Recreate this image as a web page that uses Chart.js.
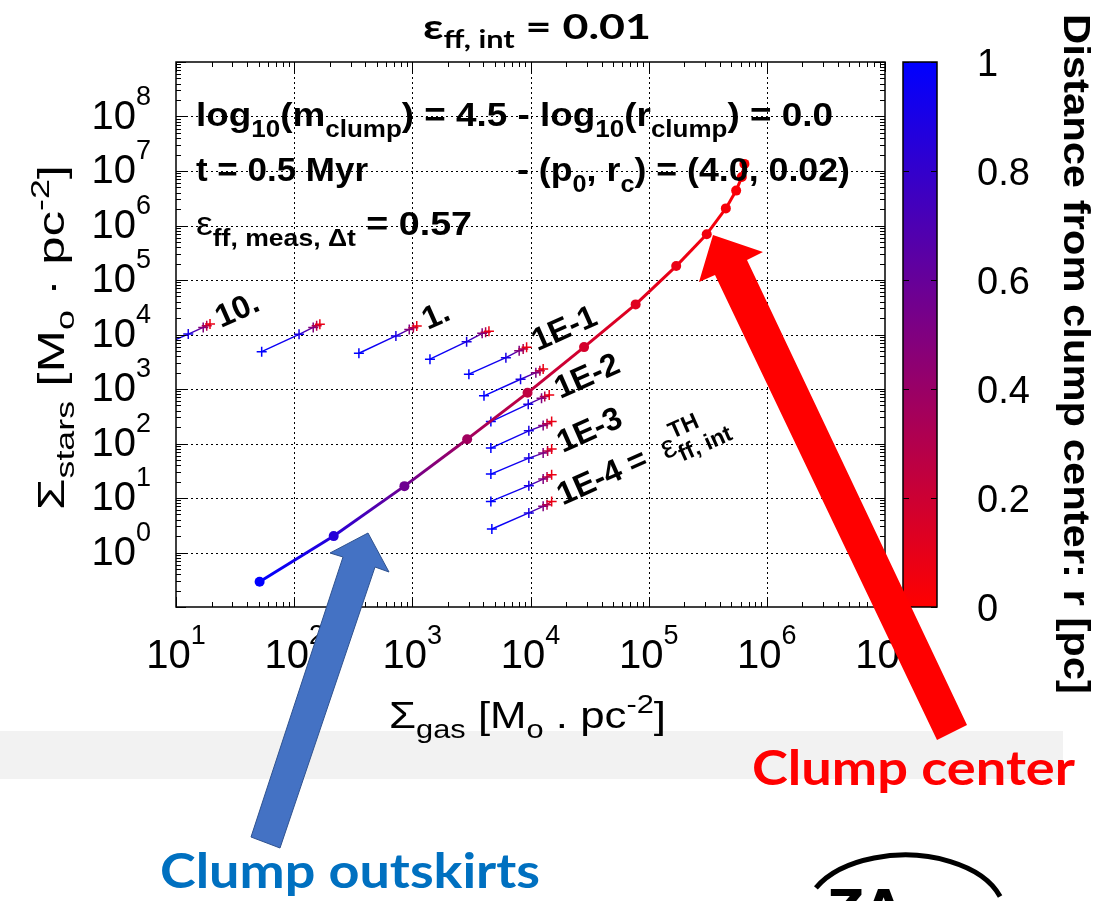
<!DOCTYPE html>
<html>
<head>
<meta charset="utf-8">
<script src="https://cdn.jsdelivr.net/npm/chart.js@4.4.0/dist/chart.umd.min.js"></script>
<style>
  html, body { margin: 0; padding: 0; background: #fff; }
  #wrap { width: 1110px; height: 901px; position: relative; }
</style>
</head>
<body>
<div id="wrap"><canvas id="chart" width="1110" height="901"></canvas></div>
<script>
// main clump profile: Sigma_gas, Sigma_stars and radius r [pc] of each point
const mainGas = [51, 216, 857, 2910, 9440, 28400, 77600, 171000, 310000, 450000, 550000, 614000, 646000];
const mainStars = [0.29, 2.0, 16.5, 120, 851, 5870, 35700, 180000, 692000, 2.06e6, 4.37e6, 7.76e6, 1.35e7];
const mainR = [1.0, 0.85, 0.57, 0.37, 0.25, 0.17, 0.12, 0.08, 0.05, 0.035, 0.025, 0.02, 0.01];

// small tracks for each threshold efficiency (half-decade steps)
const trackLabels = ['10.', '', '1.', '', '1E-1', '', '1E-2', '', '1E-3', '', '1E-4 = '];
const trackGas = [
  [6.14, 12.7, 17.0, 18.2, 19.4],
  [53.1, 110, 145, 155, 165],
  [353, 726, 942, 1020, 1090],
  [1410, 2880, 3900, 4170, 4450],
  [3010, 6190, 8020, 8670, 9270],
  [4040, 8240, 11100, 12000, 12800],
  [4620, 9570, 12400, 13200, 14400],
  [4620, 9680, 12800, 13800, 15100],
  [4620, 9680, 12800, 13960, 15100],
  [4620, 9680, 12800, 13800, 15100],
  [4710, 9680, 12800, 13800, 15100]
];
const trackStars = [
  [4990, 10200, 13500, 14500, 15600],
  [4840, 10100, 13500, 14500, 15400],
  [4530, 9400, 12400, 13300, 14300],
  [3520, 7380, 10500, 11000, 11450],
  [1870, 3760, 5050, 5420, 5830],
  [748, 1510, 1995, 2170, 2330],
  [253, 527, 679, 726, 780],
  [82.4, 171, 214, 230, 253],
  [27.5, 54.0, 66.7, 72.6, 78.9],
  [8.67, 16.8, 22.3, 24.3, 26.7],
  [2.70, 5.31, 7.02, 7.54, 8.67]
];
const trackR = [1.0, 0.9, 0.5, 0.3, 0.08];

// axis ticks
const xTicks = [1e1, 1e2, 1e3, 1e4, 1e5, 1e6, 1e7];
const yTicks = [1e0, 1e1, 1e2, 1e3, 1e4, 1e5, 1e6, 1e7, 1e8];
const cbTicks = [0, 0.2, 0.4, 0.6, 0.8, 1];
const cbLabels = ['0', '0.2', '0.4', '0.6', '0.8', '1'];

const GP = 'Liberation Sans, Arial, Helvetica, sans-serif';
const SLIDE = 'Lato, Open Sans, sans-serif';

function rColor(r) {
  return 'rgb(' + Math.round(255 * (1 - r)) + ',0,' + Math.round(255 * r) + ')';
}

function segGrad(rArr) {
  return ctx => {
    const c = ctx.chart.ctx;
    const g = c.createLinearGradient(ctx.p0.x, ctx.p0.y, ctx.p1.x, ctx.p1.y);
    g.addColorStop(0, rColor(rArr[ctx.p0DataIndex]));
    g.addColorStop(1, rColor(rArr[ctx.p1DataIndex]));
    return g;
  };
}

// rich text: runs of {t, size, dy, bold, mark, again}
function layoutRuns(c, runs, o) {
  let x = 0, mark = 0;
  const items = [];
  runs.forEach(r => {
    if (r.mark) mark = x;
    const start = r.again ? mark : x;
    const bold = r.bold !== undefined ? r.bold : o.bold;
    c.font = (bold ? 'bold ' : '') + (r.size || o.size) + 'px ' + (r.fam || o.fam);
    const w = c.measureText(r.t).width;
    items.push({ t: r.t, x: start, dy: r.dy || 0, font: c.font });
    x = r.again ? Math.max(x, start + w) : start + w;
  });
  return { items, width: x };
}

function drawRich(c, runs, o) {
  c.save();
  const L = layoutRuns(c, runs, o);
  const sx = o.fit ? o.fit / L.width : 1;
  c.translate(o.x, o.y);
  c.rotate(o.angle || 0);
  c.scale(sx, 1);
  let off = 0;
  if (o.align === 'center') off = -L.width / 2;
  if (o.align === 'right') off = -L.width;
  c.fillStyle = o.color || '#000';
  c.textBaseline = o.baseline || 'alphabetic';
  L.items.forEach(it => {
    c.font = it.font;
    c.fillText(it.t, off + it.x, it.dy);
  });
  c.restore();
}

function poly(c, pts, fill, stroke) {
  c.beginPath();
  c.moveTo(pts[0][0], pts[0][1]);
  for (let i = 1; i < pts.length; i++) c.lineTo(pts[i][0], pts[i][1]);
  c.closePath();
  c.fillStyle = fill;
  c.fill();
  if (stroke) { c.strokeStyle = stroke; c.lineWidth = 1; c.stroke(); }
}

const gnuFrame = {
  id: 'gnuFrame',
  beforeDraw(chart) {
    const c = chart.ctx;
    c.save();
    c.fillStyle = '#fff';
    c.fillRect(0, 0, chart.width, chart.height);
    c.fillStyle = '#f2f2f2';
    c.fillRect(0, 731, 1063, 48);
    c.restore();
  },
  beforeDatasetsDraw(chart) {
    const c = chart.ctx;
    const { left, right, top, bottom } = chart.chartArea;
    const xs = chart.scales.x, ys = chart.scales.y;
    c.save();
    c.strokeStyle = '#000';
    c.lineWidth = 1;
    c.setLineDash([2, 3]);
    xTicks.forEach(v => {
      const px = Math.round(xs.getPixelForValue(v)) + 0.5;
      if (px < left + 3 || px > right - 3) return;
      c.beginPath(); c.moveTo(px, top); c.lineTo(px, bottom); c.stroke();
    });
    yTicks.forEach(v => {
      const py = Math.round(ys.getPixelForValue(v)) + 0.5;
      if (py < top + 3 || py > bottom - 3) return;
      c.beginPath(); c.moveTo(left, py); c.lineTo(right, py); c.stroke();
    });
    c.restore();
  },
  afterDatasetsDraw(chart) {
    const c = chart.ctx;
    const { left, right, top, bottom } = chart.chartArea;
    const xs = chart.scales.x, ys = chart.scales.y;
    c.save();
    c.strokeStyle = '#000';
    c.lineWidth = 1;
    // minor + major ticks on all four sides
    for (let d = 0; d <= 7; d++) {
      for (let k = 1; k <= 9; k++) {
        const v = k * Math.pow(10, d);
        if (v < xs.min || v > xs.max) continue;
        const px = Math.round(xs.getPixelForValue(v)) + 0.5;
        const len = k === 1 ? 10 : 5;
        c.beginPath();
        c.moveTo(px, bottom); c.lineTo(px, bottom - len);
        c.moveTo(px, top); c.lineTo(px, top + len);
        c.stroke();
      }
    }
    for (let d = -1; d <= 9; d++) {
      for (let k = 1; k <= 9; k++) {
        const v = k * Math.pow(10, d);
        if (v < ys.min || v > ys.max) continue;
        const py = Math.round(ys.getPixelForValue(v)) + 0.5;
        const len = k === 1 ? 10 : 5;
        c.beginPath();
        c.moveTo(left, py); c.lineTo(left + len, py);
        c.moveTo(right, py); c.lineTo(right - len, py);
        c.stroke();
      }
    }
    c.lineWidth = 1.5;
    c.strokeRect(left, top, right - left, bottom - top);

    // colour box
    const cbL = 903, cbR = 937;
    const g = c.createLinearGradient(0, bottom, 0, top);
    [0, 0.25, 0.5, 0.75, 1].forEach(r => g.addColorStop(r, rColor(r)));
    c.fillStyle = g;
    c.fillRect(cbL, top, cbR - cbL, bottom - top);
    c.lineWidth = 1;
    cbTicks.forEach(r => {
      const py = Math.round(bottom - r * (bottom - top)) + 0.5;
      c.beginPath();
      c.moveTo(cbL, py); c.lineTo(cbL + 6, py);
      c.moveTo(cbR, py); c.lineTo(cbR - 6, py);
      c.stroke();
    });
    c.lineWidth = 1.5;
    c.strokeRect(cbL, top, cbR - cbL, bottom - top);
    c.restore();
  },
  afterDraw(chart) {
    const c = chart.ctx;
    const { top, bottom } = chart.chartArea;
    const xs = chart.scales.x, ys = chart.scales.y;
    const base = { size: 40, fam: GP, bold: false };

    // tick labels
    xTicks.forEach(v => {
      const e = String(Math.round(Math.log10(v)));
      drawRich(c, [{ t: '10' }, { t: e, size: 27, dy: -24 }],
        Object.assign({}, base, { x: xs.getPixelForValue(v), y: 668, align: 'center' }));
    });
    yTicks.forEach(v => {
      const e = String(Math.round(Math.log10(v)));
      drawRich(c, [{ t: '10' }, { t: e, size: 27, dy: -24 }],
        Object.assign({}, base, { x: 151, y: ys.getPixelForValue(v) + 12, align: 'right' }));
    });
    cbTicks.forEach((r, i) => {
      drawRich(c, [{ t: cbLabels[i] }],
        Object.assign({}, base, { size: 38, x: 977, y: bottom - r * (bottom - top) + 14 }));
    });

    // axis titles
    drawRich(c, [{ t: 'Σ' }, { t: 'gas', size: 26, dy: 10 }, { t: ' [M' }, { t: 'o', size: 26, dy: 10 },
      { t: ' . pc' }, { t: '-2', size: 26, dy: -15 }, { t: ']' }],
      { size: 37, fam: GP, x: 389, y: 728, fit: 277 });
    drawRich(c, [{ t: 'Σ' }, { t: 'stars', size: 26, dy: 10 }, { t: ' [M' }, { t: 'o', size: 26, dy: 10 },
      { t: ' · pc' }, { t: '-2', size: 26, dy: -15 }, { t: ']' }],
      { size: 37, fam: GP, x: 64, y: 510, angle: -Math.PI / 2, fit: 345 });
    drawRich(c, [{ t: 'Distance from clump center: r [pc]' }],
      { size: 37, fam: GP, bold: true, x: 1064, y: 14, angle: Math.PI / 2, fit: 680 });

    // title
    drawRich(c, [{ t: 'ε' }, { t: 'ff, int', size: 24, dy: 9 }, { t: ' = 0.01' }],
      { size: 35, fam: SLIDE, bold: true, x: 423, y: 39, fit: 228 });

    // key text inside the plot
    const hb = { size: 34, fam: GP, bold: true };
    drawRich(c, [{ t: 'log' }, { t: '10', size: 24, dy: 11 }, { t: '(m' }, { t: 'clump', size: 24, dy: 11 },
      { t: ') = 4.5 - log' }, { t: '10', size: 24, dy: 11 }, { t: '(r' }, { t: 'clump', size: 24, dy: 11 },
      { t: ') = 0.0' }], Object.assign({}, hb, { x: 196, y: 126, fit: 637 }));
    drawRich(c, [{ t: 't = 0.5 Myr' }], Object.assign({}, hb, { x: 196, y: 181, fit: 172 }));
    drawRich(c, [{ t: '- (p' }, { t: '0', size: 24, dy: 11 }, { t: ', r' }, { t: 'c', size: 24, dy: 11 },
      { t: ') = (4.0, 0.02)' }], Object.assign({}, hb, { x: 517, y: 181, fit: 333 }));
    drawRich(c, [{ t: 'ε', bold: false }, { t: 'ff, meas, Δt', size: 24, dy: 11 }, { t: ' = 0.57' }],
      Object.assign({}, hb, { x: 196, y: 235, fit: 276 }));

    // labels at the end of each track
    const ang = -24 * Math.PI / 180;
    trackLabels.forEach((lab, i) => {
      if (!lab) return;
      const n = trackGas[i].length - 1;
      const px = xs.getPixelForValue(trackGas[i][n]) + 11;
      const py = ys.getPixelForValue(trackStars[i][n]) + 4;
      const runs = [{ t: lab }];
      if (i === trackLabels.length - 1) {
        runs.push({ t: ' ' }, { t: 'ε', bold: false }, { t: 'TH', size: 23, dy: -16, mark: true },
          { t: 'ff, int', size: 23, dy: 9, again: true });
      }
      drawRich(c, runs, { size: 32, fam: GP, bold: true, x: px, y: py, angle: ang });
    });

    // annotation arrows
    c.save();
    poly(c, [[368, 533], [389, 572], [375, 567], [280, 848], [251, 837], [343, 557], [330, 553]], '#4472C4', '#2F528F');
    poly(c, [[713, 235], [763, 252], [747, 260], [967, 725], [937, 740], [715, 275], [699, 282]], '#FF0000');
    c.restore();

    drawRich(c, [{ t: 'Clump center' }], { size: 48, fam: SLIDE, bold: true, color: '#FF0000', x: 752, y: 785, fit: 323 });
    drawRich(c, [{ t: 'Clump outskirts' }], { size: 48, fam: SLIDE, bold: true, color: '#0070C0', x: 160, y: 888, fit: 380 });

    // logo fragment
    c.save();
    c.strokeStyle = '#000';
    c.lineWidth = 5;
    c.beginPath();
    c.ellipse(905, 915, 100, 60, 0, Math.PI * 1.15, Math.PI * 1.9);
    c.stroke();
    c.fillStyle = '#000';
    c.font = 'bold 50px DejaVu Sans';
    c.fillText('ZA', 828, 925);
    c.restore();
  }
};

const datasets = [{
  data: mainGas.map((g, i) => ({ x: g, y: mainStars[i] })),
  showLine: true,
  borderWidth: 3,
  borderColor: rColor(0.5),
  segment: { borderColor: segGrad(mainR) },
  pointStyle: 'circle',
  pointRadius: 5,
  pointBorderWidth: 0,
  pointBackgroundColor: mainR.map(rColor),
  pointBorderColor: mainR.map(rColor)
}];
trackGas.forEach((gas, t) => {
  datasets.push({
    data: gas.map((g, i) => ({ x: g, y: trackStars[t][i] })),
    showLine: true,
    borderWidth: 1.4,
    borderColor: rColor(0.9),
    segment: { borderColor: segGrad(trackR) },
    pointStyle: 'cross',
    pointRadius: 5,
    pointBorderWidth: 1.5,
    pointBorderColor: trackR.map(rColor),
    pointBackgroundColor: trackR.map(rColor)
  });
});

new Chart(document.getElementById('chart').getContext('2d'), {
  type: 'scatter',
  data: { datasets: datasets },
  options: {
    responsive: false,
    animation: false,
    devicePixelRatio: 1,
    layout: { padding: { left: 176, top: 62, right: 225, bottom: 294 } },
    scales: {
      x: { type: 'logarithmic', min: 10, max: 1e7, display: false },
      y: { type: 'logarithmic', min: 0.1, max: 1e9, display: false }
    },
    plugins: { legend: { display: false }, tooltip: { enabled: false } }
  },
  plugins: [gnuFrame]
});
</script>
</body>
</html>
